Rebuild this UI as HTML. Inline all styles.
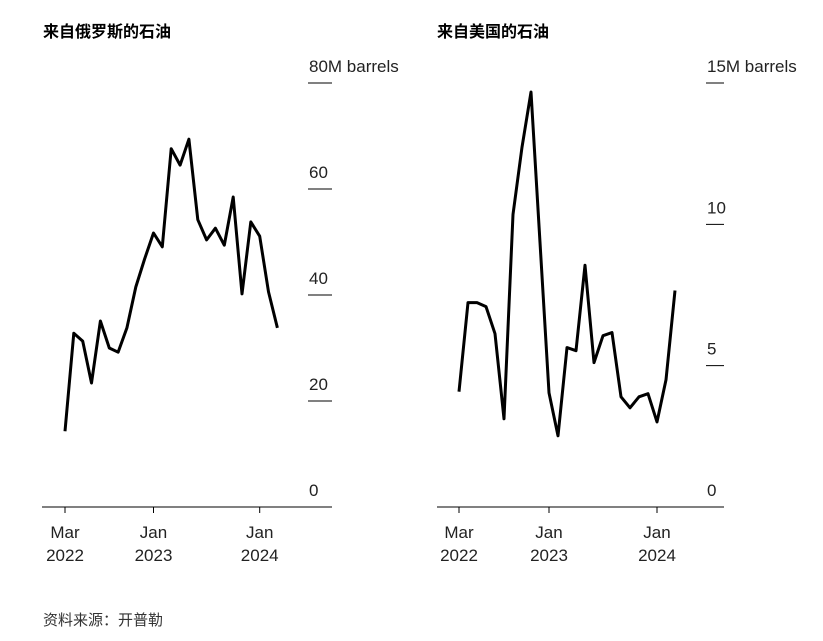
<!DOCTYPE html>
<html><head><meta charset="utf-8">
<style>
body{margin:0;background:#fff;width:823px;height:636px;overflow:hidden;font-family:"Liberation Sans","Noto Sans CJK SC",sans-serif;}
svg text{font-family:"Liberation Sans","Noto Sans CJK SC",sans-serif;}
</style></head><body>
<svg width="823" height="636">
<text x="43" y="37" font-size="16" font-weight="bold" fill="#000">来自俄罗斯的石油</text>
<text x="437" y="37" font-size="16" font-weight="bold" fill="#000">来自美国的石油</text>
<text x="43" y="625" font-size="15" fill="#333">资料来源：开普勒</text>
<g id="left"></g>
<g id="right"></g>
</svg>
<script>
const russiaValues=[14.3,32.8,31.3,23.4,35.1,30.0,29.2,33.8,41.5,46.8,51.7,49.1,67.6,64.5,69.4,54.2,50.4,52.6,49.4,58.5,40.2,53.8,51.1,40.6,33.8];
const usValues=[4.08,7.23,7.23,7.09,6.13,3.12,10.35,12.73,14.68,9.36,4.04,2.52,5.64,5.53,8.55,5.11,6.06,6.17,3.90,3.51,3.90,4.01,3.01,4.50,7.66];
const russiaTicks=[0,20,40,60,80];
const usTicks=[0,5,10,15];
const xTickMonths=[0,10,22];
const xTickLabels=[["Mar","2022"],["Jan","2023"],["Jan","2024"]];
const NS="http://www.w3.org/2000/svg";
function mk(parent,tag,attrs){const e=document.createElementNS(NS,tag);for(const k in attrs)e.setAttribute(k,attrs[k]);parent.appendChild(e);return e;}
function draw(g,values,ticks,maxV,cfg){
  const y=v=>507-v/maxV*424;
  const x=i=>cfg.x0+i*cfg.step;
  const base=mk(g,'line',{x1:cfg.left,x2:cfg.right,y1:507,y2:507,stroke:'#000','stroke-width':1});
  
  
  ticks.forEach((t,i)=>{
    const ty=y(t);
    if(t>0){const l=mk(g,'line',{x1:cfg.tickX,x2:cfg.right,y1:ty,y2:ty,stroke:'#000','stroke-width':1});
      
      }
    const tx=mk(g,'text',{x:cfg.tickX+1,y:ty-11,'font-size':17,fill:'#222'});
    tx.textContent=t+(i===ticks.length-1?'M barrels':'');
    
    
  });
  xTickMonths.forEach((m,i)=>{
    const xx=x(m);
    const tk=mk(g,'line',{x1:xx,x2:xx,y1:507,y2:513,stroke:'#000','stroke-width':1});
    
    
    xTickLabels[i].forEach((s,j)=>{
      const t=mk(g,'text',{x:xx,y:538+j*23,'font-size':17,fill:'#222','text-anchor':'middle'});
      t.textContent=s;
      
      
    });
  });
  const pts=values.map((v,i)=>x(i).toFixed(1)+','+y(v).toFixed(1)).join(' ');
  const pl=mk(g,'polyline',{points:pts,fill:'none',stroke:'#000','stroke-width':3,'stroke-linejoin':'round'});
  
  
}
draw(document.getElementById('left'),russiaValues,russiaTicks,80,{x0:65,step:8.85,left:42,right:332,tickX:308});
draw(document.getElementById('right'),usValues,usTicks,15,{x0:459,step:9,left:437,right:724,tickX:706});
</script>
</body></html>
